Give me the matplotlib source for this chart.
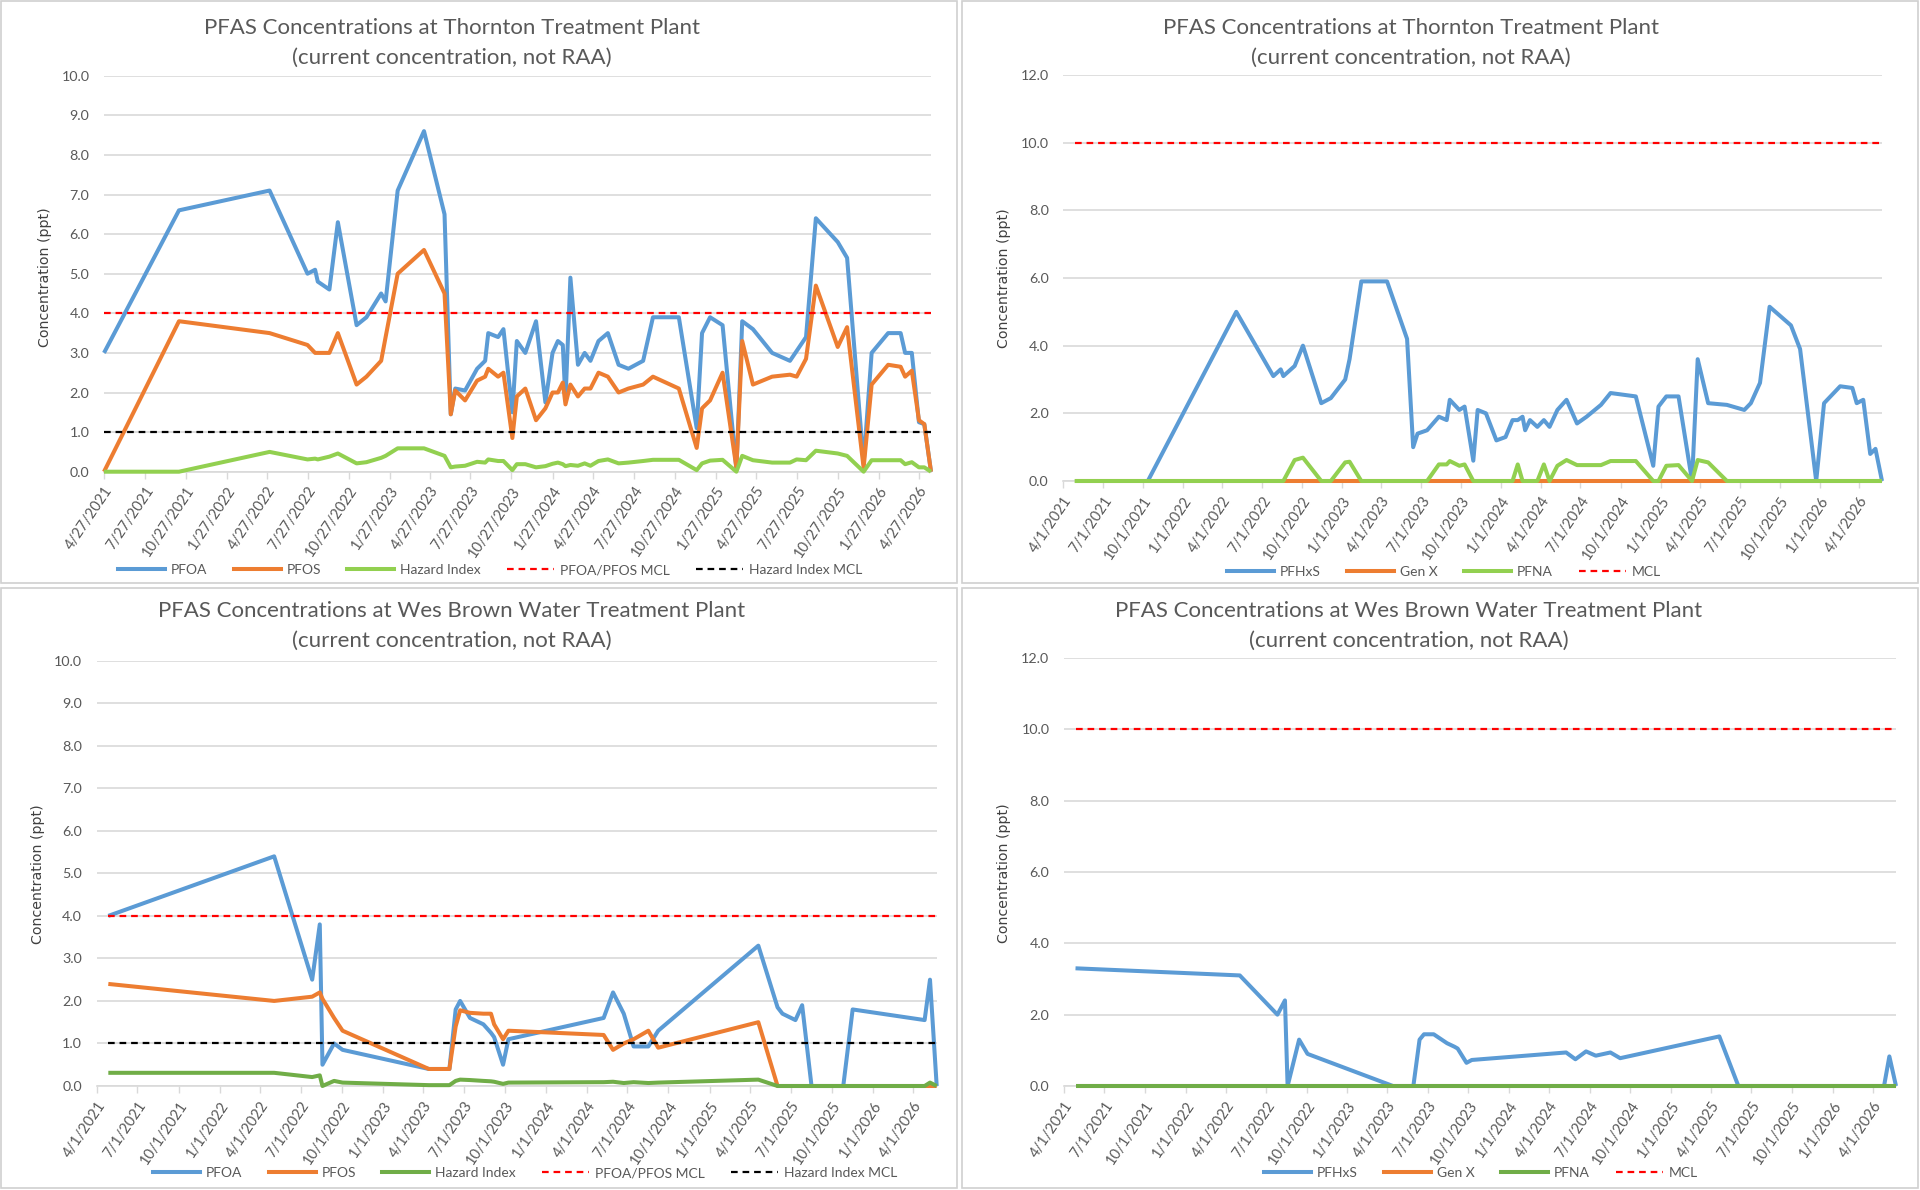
import matplotlib
matplotlib.use("Agg")
import matplotlib.pyplot as plt
from matplotlib.patches import Rectangle
from matplotlib.lines import Line2D
import numpy as np
import pandas as pd

# ---- Thornton sample dates (shared by both Thornton charts) ----
th_dates = ["2021-04-27", "2021-10-12", "2022-05-03", "2022-07-27", "2022-08-13", "2022-08-19",
            "2022-09-14", "2022-10-03", "2022-11-14", "2022-12-06", "2023-01-08", "2023-01-18",
            "2023-02-14", "2023-04-14", "2023-05-30", "2023-06-13", "2023-06-23", "2023-07-15",
            "2023-08-11", "2023-08-29", "2023-09-05", "2023-09-27", "2023-10-09", "2023-10-29",
            "2023-11-08", "2023-11-27", "2023-12-21", "2024-01-11", "2024-01-27", "2024-02-08",
            "2024-02-19", "2024-02-25", "2024-03-07", "2024-03-24", "2024-04-08", "2024-04-21",
            "2024-05-09", "2024-05-30", "2024-06-23", "2024-07-15", "2024-08-17", "2024-09-08",
            "2024-11-05", "2024-12-15", "2024-12-27", "2025-01-14", "2025-02-11", "2025-03-14",
            "2025-03-27", "2025-04-20", "2025-06-02", "2025-07-12", "2025-07-27", "2025-08-17",
            "2025-09-08", "2025-10-27", "2025-11-17", "2025-12-24", "2026-01-11", "2026-02-17",
            "2026-03-17", "2026-03-27", "2026-04-11", "2026-04-27", "2026-05-09", "2026-05-24"]

th_pfoa = [3.0, 6.6, 7.1, 5.0, 5.1, 4.8, 4.6, 6.3, 3.7, 3.9,
           4.5, 4.3, 7.1, 8.6, 6.5, 1.45, 2.1, 2.05, 2.6, 2.8,
           3.5, 3.4, 3.6, 1.5, 3.3, 3.0, 3.8, 1.75, 3.0, 3.3,
           3.2, 1.8, 4.9, 2.7, 3.0, 2.8, 3.3, 3.5, 2.7, 2.6,
           2.8, 3.9, 3.9, 1.1, 3.5, 3.9, 3.7, 0.05, 3.8, 3.6,
           3.0, 2.8, 3.05, 3.4, 6.4, 5.8, 5.4, 0.2, 3.0, 3.5,
           3.5, 3.0, 3.0, 1.25, 1.2, 0.0]
th_pfos = [0.0, 3.8, 3.5, 3.2, 3.0, 3.0, 3.0, 3.5, 2.2, 2.4,
           2.8, 3.4, 5.0, 5.6, 4.5, 1.45, 2.05, 1.8, 2.3, 2.4,
           2.6, 2.4, 2.5, 0.85, 1.9, 2.1, 1.3, 1.6, 2.0, 2.0,
           2.25, 1.7, 2.2, 1.9, 2.1, 2.1, 2.5, 2.4, 2.0, 2.1,
           2.2, 2.4, 2.1, 0.6, 1.6, 1.8, 2.5, 0.1, 3.3, 2.2,
           2.4, 2.45, 2.4, 2.85, 4.7, 3.15, 3.65, 0.1, 2.2, 2.7,
           2.65, 2.4, 2.55, 1.3, 1.2, 0.0]
th_hi = [0.0, 0.0, 0.5, 0.31, 0.33, 0.31, 0.38, 0.46, 0.21, 0.24,
         0.35, 0.4, 0.59, 0.59, 0.4, 0.11, 0.13, 0.15, 0.25, 0.23,
         0.31, 0.27, 0.27, 0.04, 0.19, 0.19, 0.11, 0.14, 0.2, 0.23,
         0.19, 0.14, 0.17, 0.15, 0.21, 0.15, 0.27, 0.31, 0.21, 0.23,
         0.27, 0.3, 0.3, 0.04, 0.21, 0.28, 0.3, 0.0, 0.4, 0.29,
         0.23, 0.23, 0.31, 0.29, 0.53, 0.46, 0.4, 0.0, 0.29, 0.29,
         0.29, 0.19, 0.24, 0.11, 0.11, 0.0]
th_pfhxs = [np.nan, 0.0, 5.0, 3.1, 3.3, 3.1, 3.4, 4.0, 2.3, 2.45,
            3.0, 3.6, 5.9, 5.9, 4.2, 1.0, 1.4, 1.5, 1.9, 1.8,
            2.4, 2.1, 2.2, 0.6, 2.1, 2.0, 1.2, 1.3, 1.8, 1.8,
            1.9, 1.5, 1.8, 1.6, 1.8, 1.6, 2.1, 2.4, 1.7, 1.9,
            2.25, 2.6, 2.5, 0.45, 2.2, 2.5, 2.5, 0.0, 3.6, 2.3,
            2.25, 2.1, 2.3, 2.9, 5.15, 4.6, 3.9, 0.0, 2.3, 2.8,
            2.75, 2.3, 2.4, 0.8, 0.95, 0.0]
th_genx = [0, 0, 0, 0, 0, 0, 0, 0, 0, 0,
           0, 0, 0, 0, 0, 0, 0, 0, 0, 0,
           0, 0, 0, 0, 0, 0, 0, 0, 0, 0,
           0, 0, 0, 0, 0, 0, 0, 0, 0, 0,
           0, 0, 0, 0, 0, 0, 0, 0, 0, 0,
           0, 0, 0, 0, 0, 0, 0, 0, 0, 0,
           0, 0, 0, 0, 0, 0]
th_pfna = [0, 0, 0, 0, 0, 0, 0.62, 0.69, 0, 0,
           0.55, 0.57, 0, 0, 0, 0, 0, 0, 0.49, 0.49,
           0.59, 0.45, 0.49, 0, 0, 0, 0, 0, 0, 0.49,
           0, 0, 0, 0, 0.49, 0, 0.45, 0.62, 0.47, 0.47,
           0.47, 0.59, 0.59, 0, 0, 0.45, 0.47, 0, 0.62, 0.55,
           0, 0, 0, 0, 0, 0, 0, 0, 0, 0,
           0, 0, 0, 0, 0, 0]

# ---- Wes Brown sample dates ----
wb_dates = ["2021-04-27", "2022-05-03", "2022-07-27", "2022-08-13", "2022-08-19", "2022-09-14",
            "2022-10-03", "2023-04-14", "2023-05-30", "2023-06-13", "2023-06-23", "2023-07-15",
            "2023-08-14", "2023-08-31", "2023-09-07", "2023-09-27", "2023-10-09", "2024-05-09",
            "2024-05-30", "2024-06-23", "2024-07-15", "2024-08-17", "2024-09-08", "2025-04-20",
            "2025-06-02", "2025-06-13", "2025-07-12", "2025-07-27", "2025-08-17", "2025-10-27",
            "2025-11-17", "2026-04-27", "2026-05-09", "2026-05-24"]

wb_pfoa = [4.0, 5.4, 2.5, 3.8, 0.5, 1.0, 0.85,
           0.4, 0.4, 1.8, 2.0, 1.6, 1.45, 1.25, 1.15, 0.5, 1.1,
           1.6, 2.2, 1.7, 0.93, 0.93, 1.3,
           3.3, 1.85, 1.7, 1.55, 1.9, 0.0, 0.0, 1.8,
           1.55, 2.5, 0.0]
wb_pfos = [2.4, 2.0, 2.1, 2.2, 2.05, 1.6, 1.3,
           0.4, 0.4, 1.4, 1.78, 1.72, 1.7, 1.7, 1.45, 1.1, 1.3,
           1.2, 0.85, 1.0, 1.1, 1.3, 0.9,
           1.5, 0.0, 0.0, 0.0, 0.0, 0.0, 0.0, 0.0,
           0.0, 0.0, 0.0]
wb_hi = [0.31, 0.31, 0.21, 0.25, 0.0, 0.12, 0.08,
         0.02, 0.02, 0.12, 0.15, 0.14, 0.12, 0.11, 0.1, 0.05, 0.08,
         0.09, 0.1, 0.07, 0.09, 0.07, 0.08,
         0.15, 0.0, 0.0, 0.0, 0.0, 0.0, 0.0, 0.0,
         0.0, 0.08, 0.0]
wb_pfhxs = [3.3, 3.1, 2.0, 2.4, 0.0, 1.3, 0.9,
            0.0, 0.0, 1.3, 1.45, 1.45, 1.2, 1.1, 1.05, 0.65, 0.73,
            0.94, 0.75, 0.97, 0.85, 0.94, 0.78,
            1.39, 0.0, 0.0, 0.0, 0.0, 0.0, 0.0, 0.0,
            0.0, 0.83, 0.0]
wb_genx = [0, 0, 0, 0, 0, 0, 0,
           0, 0, 0, 0, 0, 0, 0, 0, 0, 0,
           0, 0, 0, 0, 0, 0,
           0, 0, 0, 0, 0, 0, 0, 0,
           0, 0, 0]
wb_pfna = [0, 0, 0, 0, 0, 0, 0,
           0, 0, 0, 0, 0, 0, 0, 0, 0, 0,
           0, 0, 0, 0, 0, 0,
           0, 0, 0, 0, 0, 0, 0, 0,
           0, 0, 0]

pfoa_pfos_mcl = 4.0
hazard_mcl = 1.0
other_mcl = 10.0

title_1 = ["PFAS Concentrations at Thornton Treatment Plant",
           "PFAS Concentrations at Wes Brown Water Treatment Plant"]
title_2 = "(current concentration, not RAA)"
y_label = "Concentration (ppt)"

BLUE = "#5B9BD5"
ORANGE = "#ED7D31"
LGREEN = "#92D050"
DGREEN = "#70AD47"
GRID = "#D9D9D9"
TXT = "#595959"
FONT = "Lato"

W, H = 1920, 1190
fig = plt.figure(figsize=(W / 100, H / 100), dpi=100)
fig.patch.set_facecolor("white")


def add_axes_px(x0, y0, x1, y1):
    return fig.add_axes([x0 / W, 1 - y1 / H, (x1 - x0) / W, (y1 - y0) / H])


def panel_border(x0, y0, x1, y1):
    fig.patches.append(Rectangle((x0 / W, 1 - y1 / H), (x1 - x0) / W, (y1 - y0) / H,
                                 transform=fig.transFigure, fill=False,
                                 edgecolor="#D0D0D0", linewidth=1.2))


def draw_panel(box, start, end, ymax, ystep, series, mcls, tick_start,
               title, tcx, ty, ylab_x, ylab_y, leg_x, leg_y):
    ax = add_axes_px(*box)
    handles = []
    for dates, vals, color, name in series:
        d = pd.to_datetime(dates)
        v = np.array(vals, dtype=float)
        ok = ~np.isnan(v)
        ax.plot(d[ok], v[ok], color=color, lw=2.9, solid_joinstyle="round",
                solid_capstyle="butt", clip_on=False, zorder=3)
        handles.append(Line2D([], [], color=color, lw=2.9, label=name))
    for dates, level, color, name in mcls:
        d = pd.to_datetime([dates[0], dates[-1]])
        ax.plot(d, [level, level], color=color, lw=1.6, linestyle=(0, (3, 2.2)),
                clip_on=False, zorder=4)
        handles.append(Line2D([], [], color=color, lw=1.6, linestyle=(0, (3, 2.2)),
                              label=name))

    ax.set_xlim(pd.Timestamp(start), pd.Timestamp(end))
    ax.set_ylim(0, ymax)
    ax.set_yticks(np.arange(0, ymax + 0.01, ystep))
    ax.set_yticklabels([f"{t:.1f}" for t in np.arange(0, ymax + 0.01, ystep)],
                       fontsize=10.3, color=TXT, family=FONT)
    ticks = pd.date_range(tick_start, periods=21, freq=pd.DateOffset(months=3))
    ax.set_xticks(ticks)
    ax.set_xticklabels([f"{t.month}/{t.day}/{t.year}" for t in ticks], rotation=56,
                       ha="right", va="top", rotation_mode="anchor",
                       fontsize=10.6, color=TXT, family=FONT)
    ax.tick_params(axis="y", length=0, pad=10.5)
    ax.tick_params(axis="x", length=5, width=1, color=GRID, direction="out", pad=4)
    ax.grid(axis="y", color=GRID, lw=1.2)
    ax.set_axisbelow(True)
    for s in ["top", "right", "left"]:
        ax.spines[s].set_visible(False)
    ax.spines["bottom"].set_color(GRID)
    ax.spines["bottom"].set_linewidth(1.2)

    fig.text(tcx / W, 1 - ty / H, title, ha="center", va="center",
             fontsize=16, color=TXT, family=FONT)
    fig.text(tcx / W, 1 - (ty + 30) / H, title_2, ha="center", va="center",
             fontsize=16, color=TXT, family=FONT)
    fig.text(ylab_x / W, 1 - ylab_y / H, y_label, rotation=90, ha="center", va="center",
             fontsize=10.2, color="#404040", family="DejaVu Sans")
    fig.legend(handles=handles, loc="center", bbox_to_anchor=(leg_x / W, 1 - leg_y / H),
               ncol=len(handles), frameon=False, handlelength=3.4, handletextpad=0.4,
               columnspacing=1.9, prop={"family": FONT, "size": 10}, labelcolor=TXT)
    return ax


panel_border(1, 1, 957, 583)
panel_border(962, 1, 1918, 583)
panel_border(1, 588, 957, 1188)
panel_border(962, 588, 1918, 1188)

# Thornton PFOA / PFOS
draw_panel((104, 75.7, 931, 471.7), "2021-04-27", "2026-05-24", 10, 1,
           [(th_dates, th_pfoa, BLUE, "PFOA"), (th_dates, th_pfos, ORANGE, "PFOS"),
            (th_dates, th_hi, LGREEN, "Hazard Index")],
           [(th_dates, pfoa_pfos_mcl, "#FF0000", "PFOA/PFOS MCL"),
            (th_dates, hazard_mcl, "black", "Hazard Index MCL")],
           "2021-04-27", title_1[0], 452, 28, 45, 277, 490, 570)

# Thornton PFHxS / Gen X / PFNA
draw_panel((1063.3, 75, 1882, 481), "2021-04-01", "2026-05-24", 12, 2,
           [(th_dates, th_pfhxs, BLUE, "PFHxS"), (th_dates, th_genx, ORANGE, "Gen X"),
            (th_dates, th_pfna, LGREEN, "PFNA")],
           [(th_dates, other_mcl, "#FF0000", "MCL")],
           "2021-04-01", title_1[0], 1411, 28, 1004, 278, 1444, 572)

# Wes Brown PFOA / PFOS
draw_panel((96.7, 660.7, 936.7, 1086), "2021-04-01", "2026-05-24", 10, 1,
           [(wb_dates, wb_pfoa, BLUE, "PFOA"), (wb_dates, wb_pfos, ORANGE, "PFOS"),
            (wb_dates, wb_hi, DGREEN, "Hazard Index")],
           [(wb_dates, pfoa_pfos_mcl, "#FF0000", "PFOA/PFOS MCL"),
            (wb_dates, hazard_mcl, "black", "Hazard Index MCL")],
           "2021-04-01", title_1[1], 452, 611, 38, 874, 525, 1173)

# Wes Brown PFHxS / Gen X / PFNA
draw_panel((1064, 658, 1896, 1086), "2021-04-01", "2026-05-24", 12, 2,
           [(wb_dates, wb_pfhxs, BLUE, "PFHxS"), (wb_dates, wb_genx, ORANGE, "Gen X"),
            (wb_dates, wb_pfna, DGREEN, "PFNA")],
           [(wb_dates, other_mcl, "#FF0000", "MCL")],
           "2021-04-01", title_1[1], 1409, 611, 1004, 873, 1481, 1173)

fig.savefig("out.png", dpi=100, facecolor="white")
